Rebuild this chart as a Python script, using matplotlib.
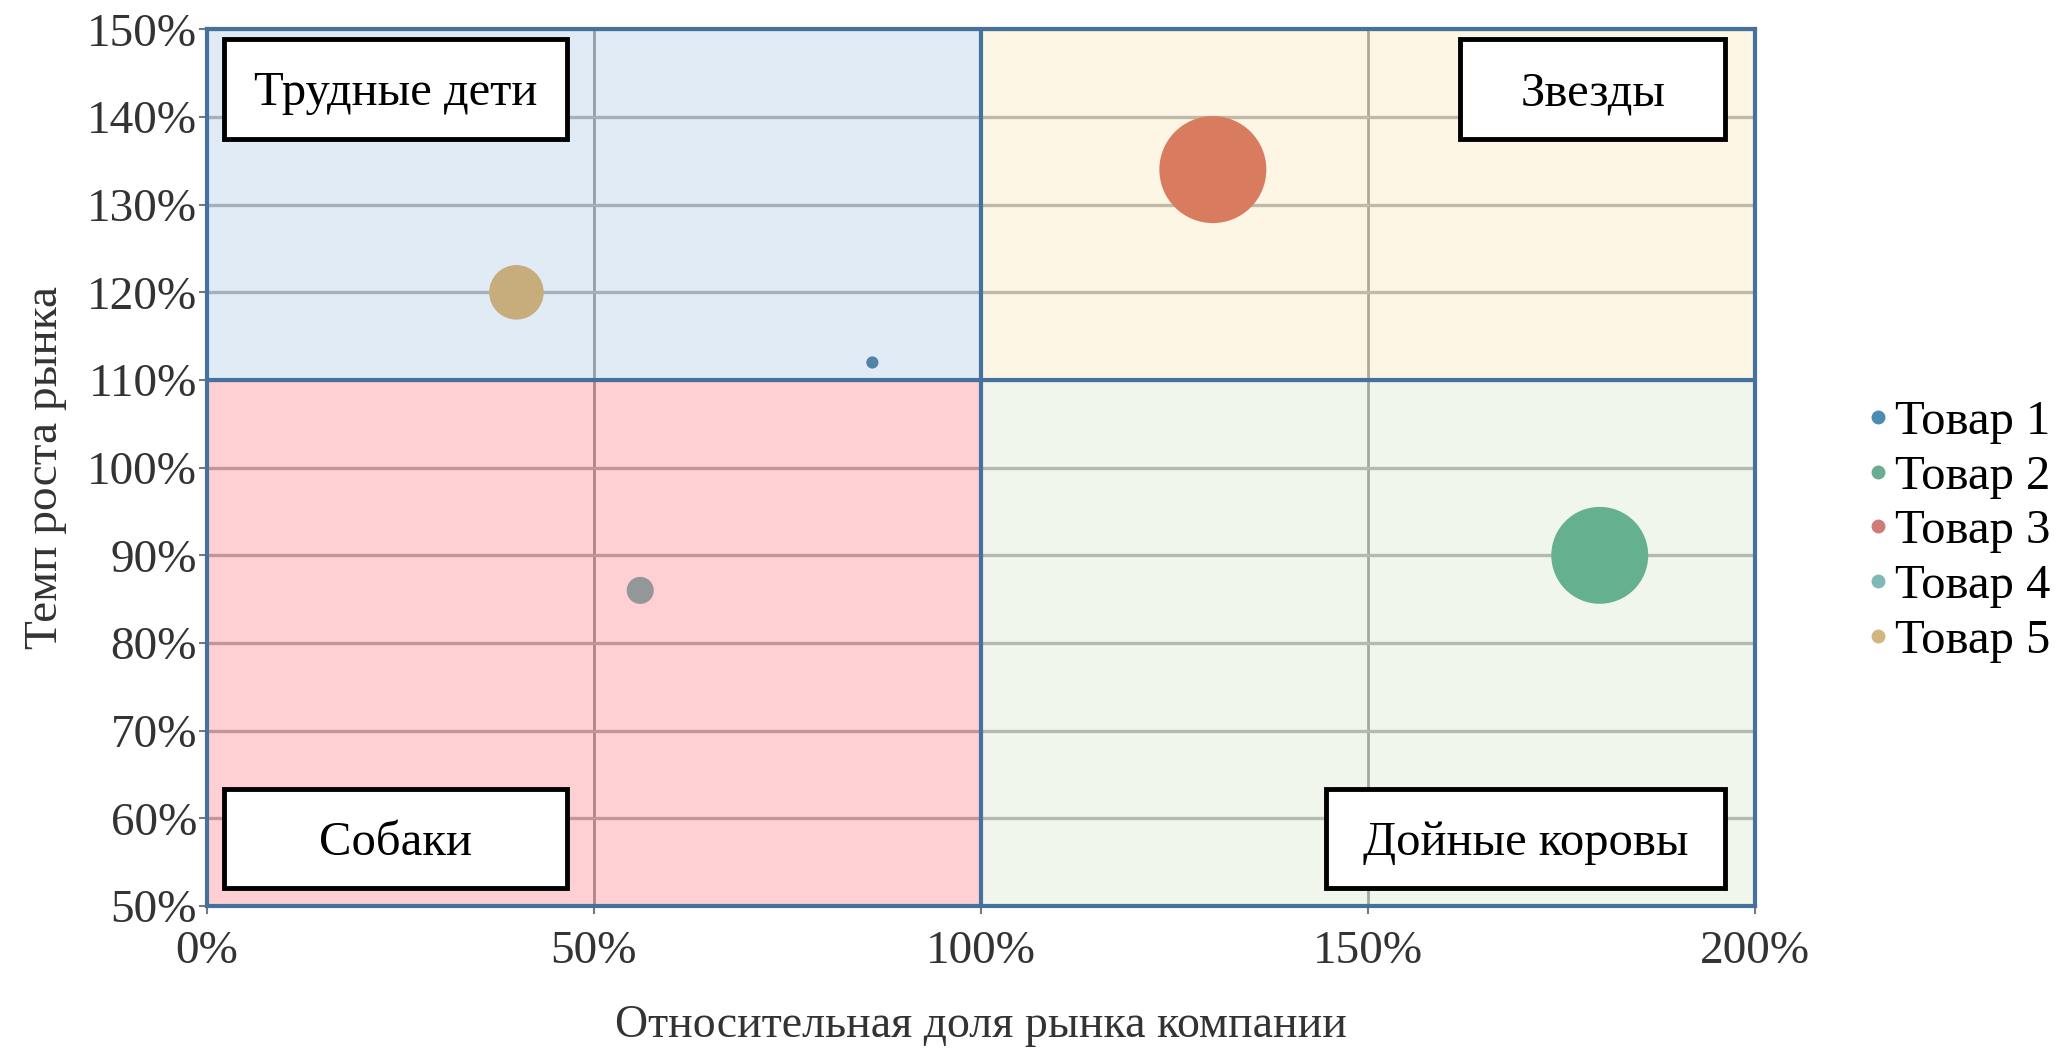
import matplotlib
matplotlib.use("Agg")
import matplotlib.pyplot as plt
from matplotlib.patches import Rectangle
from matplotlib.lines import Line2D
from matplotlib.ticker import PercentFormatter, MultipleLocator

plt.rcParams['font.family'] = ['Liberation Serif', 'DejaVu Serif']

# данные матрицы БКГ
products = ["Товар 1", "Товар 2", "Товар 3", "Товар 4", "Товар 5"]
market_share = [86, 180, 130, 56, 40]      # относительная доля рынка, %
market_growth = [112, 90, 134, 86, 120]    # темп роста рынка, %
bubble_size = [1.3, 82, 100, 6.4, 26]      # размер пузыря (объем продаж)
bubble_colors = ["#4f84a6", "#64b08f", "#d97b5e", "#949797", "#c8ad7c"]
legend_colors = ["#4a8db0", "#6aab93", "#cf7b78", "#80b8b8", "#d3b582"]

share_split = 100
growth_split = 110
x_lim = (0, 200)
y_lim = (50, 150)

quadrant_names = ["Трудные дети", "Звезды", "Собаки", "Дойные коровы"]
quadrant_colors = ["#cddff0", "#fdf0d2", "#ffb2b7", "#e6f0df"]
# положение подписей квадрантов (доли осей): x0, x1, y0, y1
label_boxes = [(0.011, 0.233, 0.875, 0.989),
               (0.810, 0.981, 0.875, 0.989),
               (0.011, 0.233, 0.020, 0.134),
               (0.723, 0.981, 0.020, 0.134)]

fig = plt.figure(figsize=(20.69, 10.48), dpi=100)
ax = fig.add_axes([0.100, 0.1355, 0.748, 0.8365])
ax.set_xlim(*x_lim)
ax.set_ylim(*y_lim)

# сетка
ax.set_axisbelow(True)
ax.xaxis.set_major_locator(MultipleLocator(50))
ax.yaxis.set_major_locator(MultipleLocator(10))
ax.xaxis.grid(True, color="#3c3c3c", lw=2.0)
ax.yaxis.grid(True, color="#6a6a6a", lw=2.4)

# квадранты (полупрозрачные поверх сетки)
spans = [((x_lim[0], share_split), (growth_split, y_lim[1])),
         ((share_split, x_lim[1]), (growth_split, y_lim[1])),
         ((x_lim[0], share_split), (y_lim[0], growth_split)),
         ((share_split, x_lim[1]), (y_lim[0], growth_split))]
for (xs, ys), col in zip(spans, quadrant_colors):
    ax.add_patch(Rectangle((xs[0], ys[0]), xs[1] - xs[0], ys[1] - ys[0],
                           facecolor=col, edgecolor="none", alpha=0.6, zorder=1))

ax.axvline(share_split, color="#44729d", lw=3, zorder=4)
ax.axhline(growth_split, color="#44729d", lw=3, zorder=4)

# пузыри
max_d = 107 * 0.72
sizes = [v / max(bubble_size) * max_d ** 2 for v in bubble_size]
ax.scatter(market_share, market_growth, s=sizes, c=bubble_colors,
           edgecolors="none", zorder=3)

# подписи квадрантов
for name, (x0, x1, y0, y1) in zip(quadrant_names, label_boxes):
    ax.add_patch(Rectangle((x0, y0), x1 - x0, y1 - y0, transform=ax.transAxes,
                           facecolor="white", edgecolor="black", lw=3.5, zorder=5))
    ax.text((x0 + x1) / 2, (y0 + y1) / 2 - 0.005, name, transform=ax.transAxes,
            ha="center", va="center", fontsize=35, zorder=6)

for sp in ax.spines.values():
    sp.set_color("#44729d")
    sp.set_linewidth(3)
    sp.set_zorder(4)

ax.xaxis.set_major_formatter(PercentFormatter(100, decimals=0))
ax.yaxis.set_major_formatter(PercentFormatter(100, decimals=0))
ax.tick_params(labelsize=34, length=6, width=1.5, color="#777777",
               labelcolor="#333333")
ax.tick_params(axis="x", pad=12)
ax.tick_params(axis="y", pad=1)

ax.set_xlabel("Относительная доля рынка компании", fontsize=33,
              color="#333333", labelpad=22)
ax.set_ylabel("Темп роста рынка", fontsize=34, color="#333333", labelpad=14)

handles = [Line2D([], [], marker="o", ls="none", markersize=10,
                  markerfacecolor=c, markeredgecolor="none") for c in legend_colors]
fig.legend(handles, products, loc="center left", bbox_to_anchor=(0.903, 0.493),
           frameon=False, fontsize=35, handlelength=0.4, handletextpad=0.15,
           labelspacing=0.22, borderpad=0, borderaxespad=0)

fig.savefig("out.png", dpi=100, facecolor="white")
